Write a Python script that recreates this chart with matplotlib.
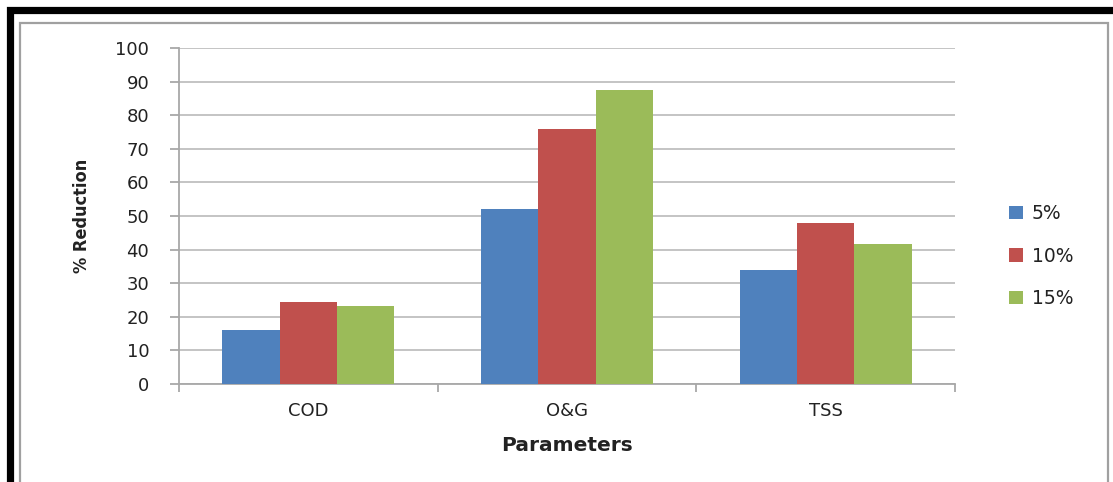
import numpy as np
import matplotlib.pyplot as plt
from matplotlib.patches import Rectangle

# % reduction per parameter at each dose
parameters = ["COD", "O&G", "TSS"]
doses = ["5%", "10%", "15%"]
reduction_5 = [16.1, 52.1, 33.9]
reduction_10 = [24.5, 75.9, 47.9]
reduction_15 = [23.2, 87.5, 41.7]

colors = ["#4F81BD", "#C0504D", "#9BBB59"]

W, H = 1113, 482
fig = plt.figure(figsize=(W / 100, H / 100), dpi=100)
fig.patch.set_facecolor("white")

ax = fig.add_axes([179 / W, 1 - 384 / H, (955 - 179) / W, (384 - 48) / H])

x = np.arange(len(parameters))
bw = 0.222
for i, (vals, lab) in enumerate(zip([reduction_5, reduction_10, reduction_15], doses)):
    ax.bar(x + (i - 1) * bw, vals, width=bw, color=colors[i], label=lab, zorder=3)

ax.set_xlim(-0.5, 2.5)
ax.set_ylim(0, 100)
ax.set_yticks(np.arange(0, 101, 10))
ax.yaxis.grid(True, color="#c4c4c4", linewidth=1.4, zorder=0)

for side in ["top", "right"]:
    ax.spines[side].set_visible(False)
for side in ["left", "bottom"]:
    ax.spines[side].set_color("#a8a8a8")
    ax.spines[side].set_linewidth(1.3)

ax.set_xticks(x)
ax.set_xticklabels(parameters)
ax.set_xticks([-0.5, 0.5, 1.5, 2.5], minor=True)
ax.tick_params(axis="x", which="major", length=0, pad=13, labelsize=13, labelcolor="#222222")
ax.tick_params(axis="x", which="minor", length=6, width=1.3, color="#a8a8a8", direction="out")
ax.tick_params(axis="y", length=6.5, width=1.3, color="#a8a8a8", pad=15,
               labelsize=13, labelcolor="#222222")

ax.set_xlabel("Parameters", fontsize=14.5, fontweight="bold", color="#222222")
ax.set_ylabel("% Reduction", fontsize=13, fontweight="bold", fontstretch="condensed",
              color="#222222")
ax.yaxis.set_label_coords(-88 / (955 - 179), 0.5)
ax.xaxis.set_label_coords(0.5, -(436 - 384) / (384 - 48))

ax.legend(loc="center", bbox_to_anchor=(1041 / W, 1 - 256 / H), bbox_transform=fig.transFigure,
          frameon=False, fontsize=13.5, handlelength=0.75, handleheight=0.7,
          handletextpad=0.5, labelspacing=1.25, labelcolor="#222222")

# chart-area frame and outer border
fig.add_artist(Rectangle((20 / W, -0.1), (1108 - 20) / W, 1.1 - 23 / H,
                         transform=fig.transFigure, fill=False,
                         edgecolor="#a0a0a0", linewidth=1.6, clip_on=False))
fig.add_artist(Rectangle((9.5 / W, -0.1), 1.2, 1.1 - 10 / H,
                         transform=fig.transFigure, fill=False,
                         edgecolor="black", linewidth=5.2, clip_on=False))

fig.savefig("out.png", dpi=100)
